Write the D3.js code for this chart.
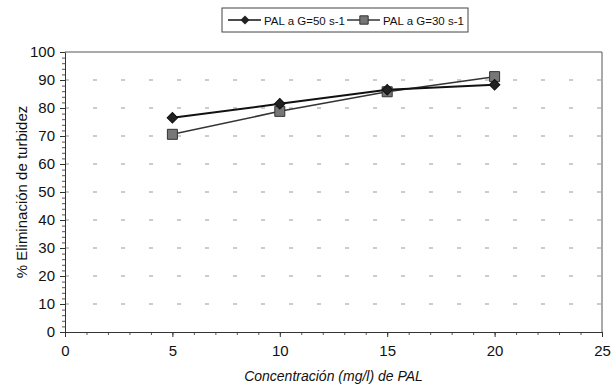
<!DOCTYPE html>
<html>
<head>
<meta charset="utf-8">
<script src="https://cdn.jsdelivr.net/npm/d3@7"></script>
<style>
  body { margin: 0; background: #fff; }
  text { font-family: Arial, "Liberation Sans", sans-serif; fill: #111; }
</style>
</head>
<body>
<div id="chart"></div>
<script>
// Data
var concentracion = [5, 10, 15, 20];
var g50 = [76.5, 81.5, 86.5, 88.3];
var g30 = [70.6, 78.8, 85.8, 91.2];
var seriesNames = ['PAL a G=50 s-1', 'PAL a G=30 s-1'];
var xTicks = [0, 5, 10, 15, 20, 25];
var yTicks = [0, 10, 20, 30, 40, 50, 60, 70, 80, 90, 100];

var W = 612, H = 392;
var margin = { top: 52, right: 10, bottom: 60, left: 65 };
var width = 602 - margin.left;
var height = 332 - margin.top;

var svg = d3.select('#chart').append('svg')
    .attr('width', W)
    .attr('height', H);

var g = svg.append('g')
    .attr('transform', 'translate(' + margin.left + ',' + margin.top + ')');

var x = d3.scaleLinear().domain([0, 25]).range([0, width]);
var y = d3.scaleLinear().domain([0, 100]).range([height, 0]);

// Dashed grid lines
g.append('g')
    .selectAll('line')
    .data(yTicks.slice(1, -1))
    .enter().append('line')
    .attr('x1', 0).attr('x2', width)
    .attr('y1', function (d) { return y(d); })
    .attr('y2', function (d) { return y(d); })
    .attr('stroke', '#999')
    .attr('stroke-width', 1)
    .attr('stroke-dasharray', '4,24');

// Top and right border
g.append('line').attr('x1', 0).attr('x2', width).attr('y1', 0).attr('y2', 0)
    .attr('stroke', '#555').attr('stroke-width', 1);
g.append('line').attr('x1', width).attr('x2', width).attr('y1', 0).attr('y2', height)
    .attr('stroke', '#555').attr('stroke-width', 1);

// Minor ticks
g.append('g')
    .attr('transform', 'translate(0,' + height + ')')
    .call(d3.axisBottom(x).ticks(25).tickSize(3).tickFormat(''))
    .call(function (a) { a.select('.domain').remove(); a.selectAll('line').attr('stroke', '#555'); });
g.append('g')
    .call(d3.axisLeft(y).ticks(50).tickSize(3).tickFormat(''))
    .call(function (a) { a.select('.domain').remove(); a.selectAll('line').attr('stroke', '#555'); });

// Axes
var xAxis = g.append('g')
    .attr('transform', 'translate(0,' + height + ')')
    .call(d3.axisBottom(x).tickValues(xTicks).tickSize(5).tickPadding(8).tickSizeOuter(0));
var yAxis = g.append('g')
    .call(d3.axisLeft(y).tickValues(yTicks).tickSize(5).tickPadding(5).tickSizeOuter(0));

[xAxis, yAxis].forEach(function (a) {
    a.select('.domain').attr('stroke', '#333');
    a.selectAll('.tick line').attr('stroke', '#333');
    a.selectAll('.tick text').style('font-size', '15px').attr('fill', '#111');
});

// Axis titles
svg.append('text')
    .attr('x', margin.left + width / 2)
    .attr('y', 381)
    .attr('text-anchor', 'middle')
    .style('font-size', '14px')
    .style('font-style', 'italic')
    .text('Concentración (mg/l) de PAL');

svg.append('text')
    .attr('transform', 'translate(27,' + (margin.top + height / 2) + ') rotate(-90)')
    .attr('text-anchor', 'middle')
    .style('font-size', '15px')
    .text('% Eliminación de turbidez');

// Lines
var line = d3.line()
    .x(function (d, i) { return x(concentracion[i]); })
    .y(function (d) { return y(d); });

g.append('path').datum(g30)
    .attr('fill', 'none').attr('stroke', '#333').attr('stroke-width', 1.5)
    .attr('d', line);
g.append('path').datum(g50)
    .attr('fill', 'none').attr('stroke', '#111').attr('stroke-width', 2)
    .attr('d', line);

// Markers
var square = d3.symbol().type(d3.symbolSquare).size(100);

g.selectAll('.sq')
    .data(g30)
    .enter().append('path')
    .attr('class', 'sq')
    .attr('d', square)
    .attr('transform', function (d, i) { return 'translate(' + x(concentracion[i]) + ',' + y(d) + ')'; })
    .attr('fill', '#777').attr('stroke', '#333').attr('stroke-width', 1);

g.selectAll('.dm')
    .data(g50)
    .enter().append('path')
    .attr('class', 'dm')
    .attr('d', d3.symbol().type(d3.symbolSquare).size(55))
    .attr('transform', function (d, i) { return 'translate(' + x(concentracion[i]) + ',' + y(d) + ') rotate(45)'; })
    .attr('fill', '#222').attr('stroke', '#111').attr('stroke-width', 1);

// Legend
var leg = svg.append('g').attr('transform', 'translate(222,8)');
leg.append('rect')
    .attr('width', 246).attr('height', 24)
    .attr('fill', '#fff').attr('stroke', '#444').attr('stroke-width', 1);

var legItems = [
    { name: seriesNames[0], x: 6, shape: 'diamond', color: '#111' },
    { name: seriesNames[1], x: 125, shape: 'square', color: '#333' }
];
legItems.forEach(function (it) {
    leg.append('line')
        .attr('x1', it.x).attr('x2', it.x + 33)
        .attr('y1', 12).attr('y2', 12)
        .attr('stroke', it.color).attr('stroke-width', 1.5);
    if (it.shape === 'diamond') {
        leg.append('path')
            .attr('d', d3.symbol().type(d3.symbolSquare).size(40))
            .attr('transform', 'translate(' + (it.x + 17) + ',12) rotate(45)')
            .attr('fill', '#222');
    } else {
        leg.append('path')
            .attr('d', d3.symbol().type(d3.symbolSquare).size(70))
            .attr('transform', 'translate(' + (it.x + 17) + ',12)')
            .attr('fill', '#777').attr('stroke', '#333');
    }
    leg.append('text')
        .attr('x', it.x + 36).attr('y', 16.5)
        .style('font-size', '11.5px')
        .text(it.name);
});
</script>
</body>
</html>
